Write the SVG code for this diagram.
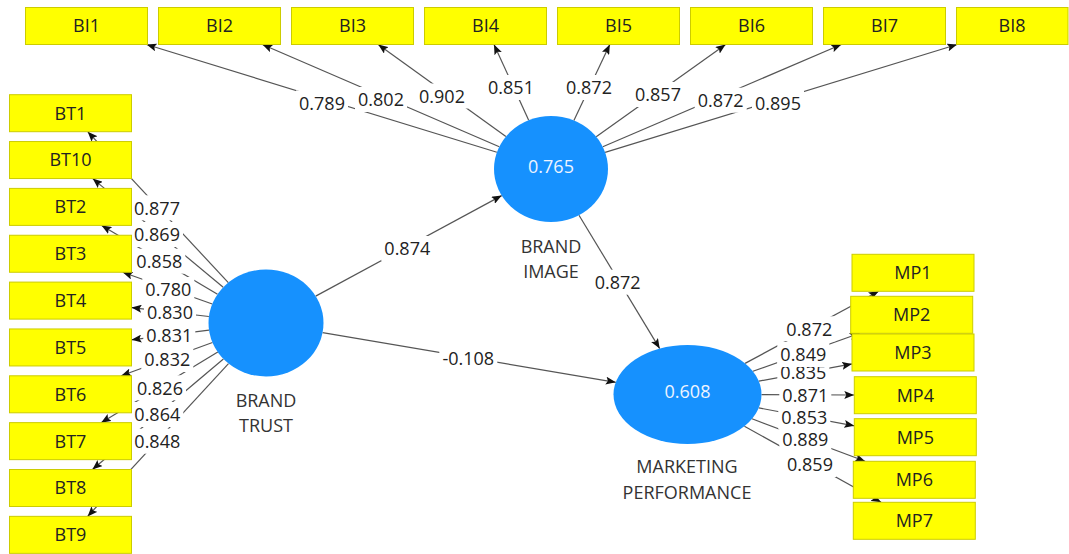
<svg xmlns="http://www.w3.org/2000/svg" width="1069" height="554" viewBox="0 0 1069 554">
  <style>
    .box { fill: #ffff00; stroke: #cccc00; stroke-width: 1; }
    .lv { fill: #1691fe; }
    .ind { font-family: "Open Sans", "Noto Sans", sans-serif; font-size: 18px; fill: #222; text-anchor: middle; }
    .lvname { font-family: "Open Sans", "Noto Sans", sans-serif; font-size: 18px; fill: #333; text-anchor: middle; }
    .r2 { font-family: "Open Sans", "Noto Sans", sans-serif; font-size: 18px; fill: #eef4ff; text-anchor: middle; }
    .ln { stroke: #555; stroke-width: 1.2; fill: none; marker-end: url(#ah); }
    .bg { fill: #ffffff; }
    .wt { font-family: "Open Sans", "Noto Sans", sans-serif; font-size: 18px; fill: #222; text-anchor: middle; }
  </style>
  <defs>
    <marker id="ah" viewBox="0 0 10 8" refX="10" refY="4" markerWidth="10" markerHeight="8" markerUnits="userSpaceOnUse" orient="auto">
      <path d="M0,0 L10,4 L0,8 L2,4 z" fill="#111"/>
    </marker>
  </defs>
  <rect width="1069" height="554" fill="#ffffff"/>

  <g id="connectors">
    <!-- Brand Image loadings -->
    <line class="ln" x1="496.9" y1="152.3" x2="146.6" y2="44.5"/>
    <line class="ln" x1="499.3" y1="146.7" x2="262.4" y2="44.5"/>
    <line class="ln" x1="505.9" y1="136.5" x2="378.2" y2="44.5"/>
    <line class="ln" x1="528.7" y1="120.2" x2="494" y2="44.5"/>
    <line class="ln" x1="573.9" y1="120.5" x2="609.8" y2="44.5"/>
    <line class="ln" x1="596.2" y1="136.7" x2="725.6" y2="44.5"/>
    <line class="ln" x1="602.8" y1="146.8" x2="841.3" y2="44.5"/>
    <line class="ln" x1="605.1" y1="152.4" x2="957.1" y2="44.5"/>
    <!-- Brand Trust loadings -->
    <line class="ln" x1="228.3" y1="282.6" x2="87.7" y2="131.7"/>
    <line class="ln" x1="223.2" y1="287.3" x2="92.7" y2="178.6"/>
    <line class="ln" x1="217.5" y1="294.2" x2="101.6" y2="225.4"/>
    <line class="ln" x1="212.3" y1="304" x2="122.7" y2="272.3"/>
    <line class="ln" x1="208.9" y1="316.5" x2="131.5" y2="307.6"/>
    <line class="ln" x1="209" y1="330.1" x2="131.5" y2="339.8"/>
    <line class="ln" x1="212.5" y1="342.5" x2="121.2" y2="375.8"/>
    <line class="ln" x1="217.8" y1="352.1" x2="101.1" y2="422.7"/>
    <line class="ln" x1="223.4" y1="359" x2="92.4" y2="469.5"/>
    <line class="ln" x1="228.5" y1="363.6" x2="87.6" y2="516.4"/>
    <!-- Marketing Performance loadings -->
    <line class="ln" x1="745.1" y1="363.4" x2="878.7" y2="291.3"/>
    <line class="ln" x1="752.9" y1="371.3" x2="859.7" y2="333.3"/>
    <line class="ln" x1="758.8" y1="381.2" x2="852" y2="363.9"/>
    <line class="ln" x1="761.5" y1="394.7" x2="854.3" y2="395"/>
    <line class="ln" x1="758.8" y1="407.9" x2="854.3" y2="425.8"/>
    <line class="ln" x1="752" y1="418.8" x2="865.1" y2="461.3"/>
    <line class="ln" x1="744.4" y1="426.2" x2="881.1" y2="502.3"/>
    <!-- structural paths -->
    <line class="ln" x1="315.7" y1="296.1" x2="501.7" y2="195.6"/>
    <line class="ln" x1="322.6" y1="332.6" x2="615.8" y2="382.3"/>
    <line class="ln" x1="579" y1="215.2" x2="659.7" y2="348.6"/>

    <g id="weights">
      <rect class="bg" x="296" y="90.4" width="52" height="25"/><text class="wt" x="322" y="109.8">0.789</text>
      <rect class="bg" x="355" y="87" width="52" height="25"/><text class="wt" x="381" y="106.4">0.802</text>
      <rect class="bg" x="416" y="83.5" width="52" height="25"/><text class="wt" x="442" y="102.9">0.902</text>
      <rect class="bg" x="485" y="75" width="52" height="25"/><text class="wt" x="511" y="94.4">0.851</text>
      <rect class="bg" x="563" y="75" width="52" height="25"/><text class="wt" x="589" y="94.4">0.872</text>
      <rect class="bg" x="632" y="82" width="52" height="25"/><text class="wt" x="658" y="101.4">0.857</text>
      <rect class="bg" x="694.7" y="87.7" width="52" height="25"/><text class="wt" x="720.7" y="107.1">0.872</text>
      <rect class="bg" x="752" y="90.4" width="52" height="25"/><text class="wt" x="778" y="109.8">0.895</text>

      <rect class="bg" x="131" y="195.3" width="52" height="25"/><text class="wt" x="157" y="214.7">0.877</text>
      <rect class="bg" x="131" y="222" width="52" height="25"/><text class="wt" x="157" y="241.4">0.869</text>
      <rect class="bg" x="133.3" y="248.7" width="52" height="25"/><text class="wt" x="159.3" y="268.1">0.858</text>
      <rect class="bg" x="142.3" y="277" width="52" height="25"/><text class="wt" x="168.3" y="296.4">0.780</text>
      <rect class="bg" x="144" y="300" width="52" height="25"/><text class="wt" x="170" y="319.4">0.830</text>
      <rect class="bg" x="143.3" y="323" width="52" height="25"/><text class="wt" x="169.3" y="342.4">0.831</text>
      <rect class="bg" x="141.3" y="347" width="52" height="25"/><text class="wt" x="167.3" y="366.4">0.832</text>
      <rect class="bg" x="134" y="375.3" width="52" height="25"/><text class="wt" x="160" y="394.7">0.826</text>
      <rect class="bg" x="131.3" y="402" width="52" height="25"/><text class="wt" x="157.3" y="421.4">0.864</text>
      <rect class="bg" x="131.3" y="428.7" width="52" height="25"/><text class="wt" x="157.3" y="448.1">0.848</text>

      <rect class="bg" x="783.3" y="316.3" width="52" height="25"/><text class="wt" x="809.3" y="335.7">0.872</text>
      <rect class="bg" x="777.3" y="360" width="52" height="25"/><text class="wt" x="803.3" y="379.4">0.835</text>
      <rect class="bg" x="777.3" y="342" width="52" height="25"/><text class="wt" x="803.3" y="361.4">0.849</text>
      <rect class="bg" x="779.3" y="382.7" width="52" height="25"/><text class="wt" x="805.3" y="402.1">0.871</text>
      <rect class="bg" x="778.3" y="404.7" width="52" height="25"/><text class="wt" x="804.3" y="424.1">0.853</text>
      <rect class="bg" x="779.3" y="427" width="52" height="25"/><text class="wt" x="805.3" y="446.4">0.889</text>
      <rect class="bg" x="784" y="452" width="52" height="25"/><text class="wt" x="810" y="471.4">0.859</text>

      <rect class="bg" x="381.3" y="236" width="52" height="25"/><text class="wt" x="407.3" y="255.4">0.874</text>
      <rect class="bg" x="439.3" y="346" width="58" height="25"/><text class="wt" x="468.3" y="365.4">-0.108</text>
      <rect class="bg" x="591.7" y="269.7" width="52" height="25"/><text class="wt" x="617.7" y="289.1">0.872</text>
    </g>
  </g>

  <!-- latent variables -->
  <g id="brand-trust">
    <ellipse class="lv" cx="266" cy="323" rx="57.5" ry="53.5"/>
    <text class="lvname" x="266" y="406.5">BRAND</text>
    <text class="lvname" x="266" y="432">TRUST</text>
  </g>
  <g id="brand-image">
    <ellipse class="lv" cx="551" cy="169" rx="57" ry="53"/>
    <text class="r2" x="551" y="172.5">0.765</text>
    <text class="lvname" x="551" y="253">BRAND</text>
    <text class="lvname" x="551" y="278">IMAGE</text>
  </g>
  <g id="marketing-performance">
    <ellipse class="lv" cx="687.5" cy="394.5" rx="74" ry="49.5"/>
    <text class="r2" x="687.5" y="398">0.608</text>
    <text class="lvname" x="687" y="473">MARKETING</text>
    <text class="lvname" x="687" y="498.5">PERFORMANCE</text>
  </g>

  <!-- Brand Image indicators -->
  <g id="BI1"><rect class="box" x="25.5" y="7.5" width="122" height="37"/><text class="ind" x="86.5" y="32.4">BI1</text></g>
  <g id="BI2"><rect class="box" x="158.5" y="7.5" width="122" height="37"/><text class="ind" x="219.5" y="32.4">BI2</text></g>
  <g id="BI3"><rect class="box" x="291.5" y="7.5" width="122" height="37"/><text class="ind" x="352.5" y="32.4">BI3</text></g>
  <g id="BI4"><rect class="box" x="424.5" y="7.5" width="122" height="37"/><text class="ind" x="485.5" y="32.4">BI4</text></g>
  <g id="BI5"><rect class="box" x="557.5" y="7.5" width="122" height="37"/><text class="ind" x="618.5" y="32.4">BI5</text></g>
  <g id="BI6"><rect class="box" x="690.5" y="7.5" width="122" height="37"/><text class="ind" x="751.5" y="32.4">BI6</text></g>
  <g id="BI7"><rect class="box" x="823.5" y="7.5" width="122" height="37"/><text class="ind" x="884.5" y="32.4">BI7</text></g>
  <g id="BI8"><rect class="box" x="956.5" y="7.5" width="111.5" height="37"/><text class="ind" x="1012" y="32.4">BI8</text></g>

  <!-- Brand Trust indicators -->
  <g id="BT1"><rect class="box" x="9.5" y="94.7" width="122" height="37"/><text class="ind" x="70.5" y="119.6">BT1</text></g>
  <g id="BT10"><rect class="box" x="9.5" y="141.55" width="122" height="37"/><text class="ind" x="70.5" y="166.4">BT10</text></g>
  <g id="BT2"><rect class="box" x="9.5" y="188.4" width="122" height="37"/><text class="ind" x="70.5" y="213.3">BT2</text></g>
  <g id="BT3"><rect class="box" x="9.5" y="235.25" width="122" height="37"/><text class="ind" x="70.5" y="260.1">BT3</text></g>
  <g id="BT4"><rect class="box" x="9.5" y="282.1" width="122" height="37"/><text class="ind" x="70.5" y="307">BT4</text></g>
  <g id="BT5"><rect class="box" x="9.5" y="328.95" width="122" height="37"/><text class="ind" x="70.5" y="353.8">BT5</text></g>
  <g id="BT6"><rect class="box" x="9.5" y="375.8" width="122" height="37"/><text class="ind" x="70.5" y="400.7">BT6</text></g>
  <g id="BT7"><rect class="box" x="9.5" y="422.65" width="122" height="37"/><text class="ind" x="70.5" y="447.5">BT7</text></g>
  <g id="BT8"><rect class="box" x="9.5" y="469.5" width="122" height="37"/><text class="ind" x="70.5" y="494.4">BT8</text></g>
  <g id="BT9"><rect class="box" x="9.5" y="516.35" width="122" height="37"/><text class="ind" x="70.5" y="541.2">BT9</text></g>

  <!-- Marketing Performance indicators -->
  <g id="MP1"><rect class="box" x="852" y="254.3" width="122" height="37"/><text class="ind" x="913" y="279.2">MP1</text></g>
  <g id="MP2"><rect class="box" x="850.7" y="296.3" width="122" height="37"/><text class="ind" x="911.7" y="321.2">MP2</text></g>
  <g id="MP3"><rect class="box" x="852" y="334" width="122" height="37"/><text class="ind" x="913" y="358.9">MP3</text></g>
  <g id="MP4"><rect class="box" x="854.3" y="376.7" width="122" height="37"/><text class="ind" x="915.3" y="401.6">MP4</text></g>
  <g id="MP5"><rect class="box" x="854.3" y="418.7" width="122" height="37"/><text class="ind" x="915.3" y="443.6">MP5</text></g>
  <g id="MP6"><rect class="box" x="853.3" y="461.3" width="122" height="37"/><text class="ind" x="914.3" y="486.2">MP6</text></g>
  <g id="MP7"><rect class="box" x="853.3" y="502.3" width="122" height="37"/><text class="ind" x="914.3" y="527.2">MP7</text></g>
</svg>
